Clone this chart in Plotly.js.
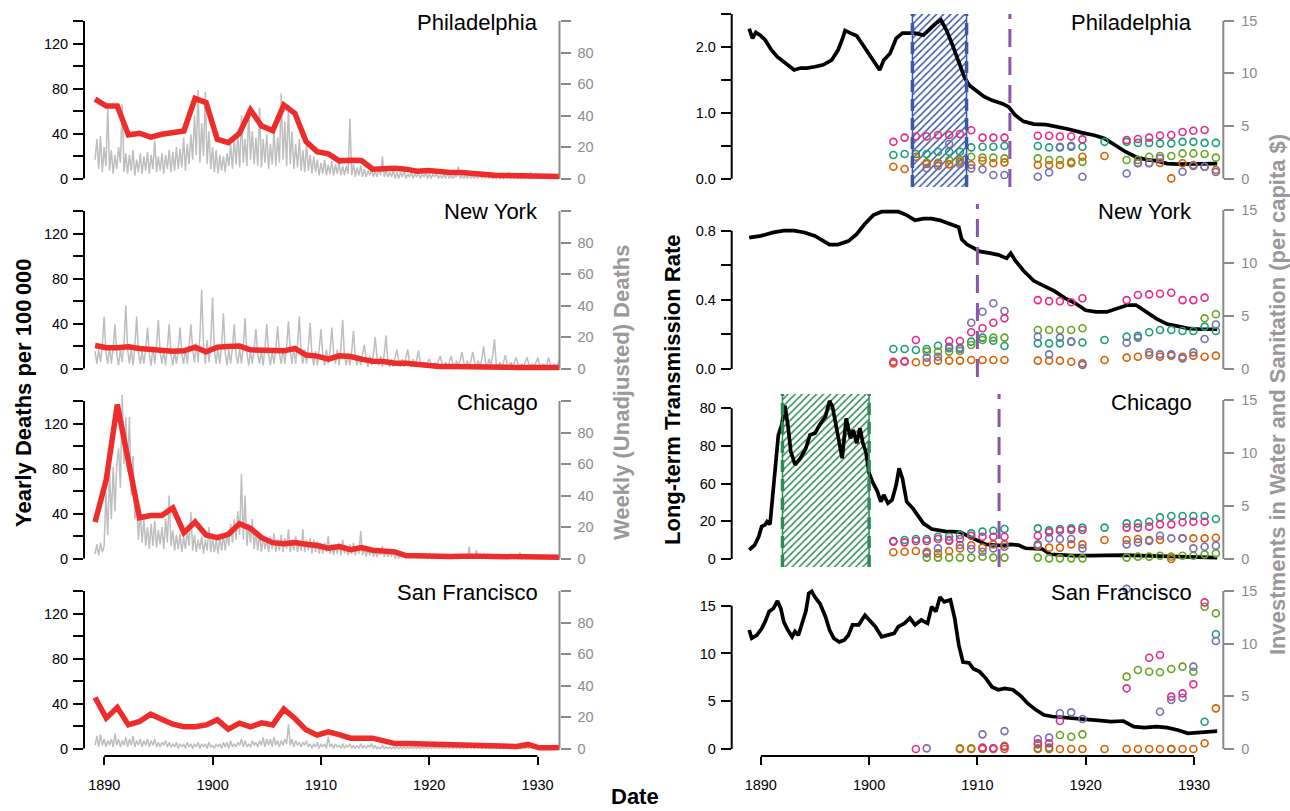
<!DOCTYPE html>
<html>
<head>
<meta charset="utf-8">
<script src="https://cdn.plot.ly/plotly-3.0.1.min.js"></script>
<style>html,body{margin:0;padding:0;background:#fff}#chart{width:1290px;height:811px}</style>
</head>
<body>
<div id="chart"></div>
<script>
// ---------------- DATA ----------------
const cities = ['Philadelphia', 'New York', 'Chicago', 'San Francisco'];

// yearly typhoid deaths per 100 000 (left column, left axis)
const yearlyYears = [1889.15,1890.18,1891.2,1892.23,1893.25,1894.28,1895.3,1896.33,1897.35,1898.38,
  1899.4,1900.43,1901.45,1902.48,1903.5,1904.53,1905.55,1906.58,1907.6,1908.63,
  1909.65,1910.68,1911.7,1912.73,1913.75,1914.78,1915.8,1916.83,1917.85,1918.88,
  1919.9,1920.93,1921.95,1922.98,1924.0,1925.03,1926.05,1927.08,1928.1,1929.13,
  1930.15,1931.18,1932.2];
const phYearly = [70.6,64.4,64.4,38.7,40.2,36.7,39.3,40.8,42.3,71.2,67.4,34.9,31.9,40.2,60.9,46.7,42.6,65.3,57.9,32.8,23.9,21.9,15.7,16.3,16,8.3,8.9,9.2,8.3,6.5,7.1,5.6,5.3,5.3,4.4,3,3,2.7,2.4,1.8,1.5,1.8,1.8];
const nyYearly = [20.4,18.4,18.4,19.3,17.8,16.6,16,15.4,15.7,19,14.8,19,19.6,19.9,16.6,16.6,16.3,15.7,17.8,11.9,11,8.3,11.3,10.7,8.3,6.5,6.2,4.7,4.7,3.9,2.1,1.8,1.8,1.8,2.1,2.4,2.4,1.2,0.9,0.9,0.9,0.9,0.9];
const chYearly = [32.4,70,136.8,86,36.2,38.2,38.2,45,23,32.4,20.9,18.5,21.5,30.9,26.8,18.5,14.1,13.2,14.1,12.6,11.5,9.1,10.6,7.9,9.7,7.4,6.2,5.9,2.6,2.1,1.8,1.8,1.8,2.1,2.6,2.1,1.8,1.5,1.5,1.2,1.2,0.9,1.2];
const sfYearly = [45.3,27,36.4,21,24,30.5,26,21.6,19.3,19.3,21,25.5,17.2,22.5,19.3,22.8,21,35,26.7,16.6,11.9,14.8,12.4,9.2,9.2,9.2,6.8,4.4,4.4,4.1,3.6,3.6,3.8,3.3,3.6,2.4,1.8,2.4,1.8,3.6,0.6,0.6,0.9];

// weekly (unadjusted) deaths, read roughly six values per year (left column, right axis)
const weeklyFirst = 1889.15, weeklyLast = 1932.2;
const phWeekly = [
  12,25,6,27,4,20, 8,45,5,18,3,15, 6,20,10,47,4,16, 3,15,5,18,2,12, 4,16,3,14,5,17,
  3,15,6,24,4,14, 5,16,3,15,6,18, 4,17,5,20,6,19, 7,26,5,22,9,28, 12,40,15,56,10,35,
  14,55,9,30,6,20, 4,18,3,15,5,14, 4,16,8,22,6,25, 9,28,7,40,10,25, 8,43,12,30,9,26,
  8,45,7,25,10,28, 6,22,9,30,8,26, 10,54,12,36,8,47, 9,30,6,22,7,25, 5,18,4,22,5,15,
  3,14,4,12,2,10, 3,12,2,9,3,11, 2,9,3,10,2,8, 2,8,3,38,2,9, 1,7,2,8,1,6,
  1,5,2,6,1,5, 1,6,2,14,1,5, 1,4,1,5,0,4, 0,4,1,5,0,3, 1,4,0,3,1,4,
  0,3,1,4,0,3, 0,3,1,3,0,2, 0,3,0,4,0,2, 0,2,1,7.5,0,2, 0,2,0,3,0,2,
  0,2,0,3,0,2, 0,4,0,2,0,1, 0,2,0,1,0,2, 0,4,0,1,0,1, 0,1,0,2,0,1,
  0,4,0,1,0,1, 0,1,0,1,0,2, 0,1,0,1,0,1, 0];
const nyWeekly = [
  11,3,12,4,15,33, 10,3,14,3,13,28, 9,2,12,4,16,40, 12,3,13,2,14,33, 10,3,11,3,12,26,
  9,2,14,3,15,31, 10,3,12,2,13,28, 9,2,11,3,12,26, 9,3,13,3,14,28, 12,4,16,4,20,50,
  14,3,18,4,16,45, 12,3,14,3,14,35, 10,2,12,3,13,28, 9,3,13,3,14,32, 10,2,11,3,12,25,
  9,3,12,2,13,28, 9,2,11,3,12,27, 10,3,13,3,14,30, 11,3,14,3,15,33, 10,3,12,3,13,29,
  9,2,11,2,12,25, 9,2,12,3,11,26, 10,3,12,2,13,31, 8,2,10,2,11,24, 6,2,8,2,9,15,
  6,1,8,2,9,20, 7,2,8,1,9,21, 5,1,6,1,7,12, 5,1,6,1,7,12, 4,1,6,1,6,11.5,
  3,1,4,1,4,6, 3,1,4,1,5,8, 3,1,4,1,4,8, 3,1,5,1,5,10.5, 4,1,5,1,5,10.5,
  4,1,5,1,6,14, 4,1,6,2,8,18.5, 3,1,4,1,4,8.5, 3,1,4,1,4,7, 3,1,3,1,4,7,
  3,1,3,1,4,7, 2,1,3,1,3,7, 2,1,3,1,3,6, 2];
const chWeekly = [
  3,9,2,10,4,8, 42,15,55,25,58,30, 60,70,45,104,60,90, 55,90,40,65,25,35, 12,30,10,25,8,20,
  6,22,8,24,7,18, 9,20,6,25,10,40, 8,18,5,15,6,16, 4,14,6,18,8,29.5, 5,15,4,12,6,14,
  3,12,5,20,4,13, 4,12,3,14,5,15, 5,16,8,22,10,25, 12,30,15,53.7,12,40, 8,22,10,25,6,18,
  5,16,4,14,6,12, 4,14,6,16,4,12, 5,15,4,13,6,18.5, 4,12,5,14,4,11, 5,18.5,4,12,5,13,
  3,12,4,11,3,10, 3,10,4,14,3,9, 2,9,3,10,2,12, 3,8,2,9,3,10, 2,8,3,17.5,2,7,
  1,6,2,7,1,5, 1,5,2,8,1,4, 1,4,1,5,0,3, 0,2,1,3,0,2, 0,2,0,2,0,2,
  0,2,0,3,0,1, 0,1,0,2,0,1, 0,1,0,2,0,1, 0,2,0,1,0,2, 0,2,0,7.4,0,2,
  0,5.3,0,2,0,1, 0,2,0,1,0,2, 0,1,0,2,0,1, 0,2,0,1,0,1, 0,3.8,0,1,0,1,
  0,1,0,2,0,1, 0,1,0,1,0,1, 0,1,0,1,0,1, 0];
const sfWeekly = [
  2,8,1,9,2,6, 1,5,2,6,1,9.5, 2,6,1,5,2,7, 1,6,2,8,1,5, 2,6,1,5,2,6,
  1,5,2,6,1,4, 1,4,2,5,1,4, 1,3,1,4,0,3, 1,3,0,4,1,3, 0,3,1,4,0,3,
  1,3,0,4,1,2, 0,3,1,3,0,4, 1,4,0,5,1,3, 1,4,2,6,1,5, 1,3,1,5,2,4,
  1,5,2,7,1,6, 2,6,1,7.4,2,5, 1,5,2,6,3,15.4, 2,6,1,5,2,4, 1,4,2,5,1,3,
  0,3,1,4,0,3, 1,3,0,7.4,1,3, 0,3,1,2,0,3, 0,2,1,3,0,2, 0,2,0,3,0,2,
  0,2,1,3,0,2, 0,1,0,2,0,1, 0,1,0,1,0,1, 0,1,0,1,0,1, 0,1,0,1,0,1,
  0,1,0,1,0,1, 0,1,0,1,0,1, 0,1,0,1,0,1, 0,1,0,1,0,1, 0,1,0,1,0,1,
  0,1,0,1,0,1, 0,1,0,1,0,1, 0,1,0,1,0,1, 0,1,0,1,0,1, 0,1,0,1,0,1,
  0,1,0,1,0,1, 0,1,0,1,0,1, 0,1,0,1,0,1, 0];

// long-term transmission rate (right column, left axis)
const phTransYears = [1888.93,1889.23,1889.54,1890.0,1890.39,1890.96,1891.54,1892.12,1892.5,1893.08,1893.66,1894.24,1895.0,1895.77,1896.54,1897.12,1897.51,1897.78,1898.28,1898.85,1899.43,1900.0,1900.58,1900.97,1901.35,1901.93,1902.5,1903.08,1903.66,1904.24,1905.01,1905.59,1906.17,1906.63,1907.13,1907.7,1908.28,1908.78,1909.24,1909.82,1910.59,1911.35,1912.31,1912.89,1913.47,1914.24,1915.2,1916.35,1917.31,1918.46,1919.62,1920.78,1921.74,1922.71,1923.67,1924.64,1925.6,1926.56,1927.52,1928.48,1929.44,1930.4,1932.14];
const phTrans = [2.28,2.13,2.22,2.17,2.11,1.96,1.85,1.78,1.73,1.65,1.68,1.68,1.70,1.73,1.80,1.95,2.11,2.25,2.21,2.17,2.03,1.88,1.73,1.65,1.80,1.90,2.13,2.21,2.21,2.21,2.18,2.28,2.36,2.41,2.26,2.03,1.78,1.55,1.42,1.34,1.25,1.19,1.14,1.09,0.97,0.87,0.83,0.82,0.79,0.75,0.70,0.66,0.61,0.51,0.41,0.33,0.29,0.27,0.23,0.22,0.22,0.22,0.23];
const nyTransYears = [1888.93,1890.0,1891.16,1892.12,1893.08,1894.04,1895.0,1895.77,1896.35,1897.12,1898.08,1898.85,1899.62,1900.39,1901.16,1901.93,1902.7,1903.47,1904.24,1905.01,1905.78,1906.55,1907.51,1908.28,1908.55,1909.05,1909.63,1910.2,1911.16,1911.93,1912.7,1913.08,1913.47,1914.24,1915.2,1916.16,1917.12,1918.08,1919.04,1920.0,1920.97,1921.94,1922.9,1923.86,1924.64,1925.41,1926.56,1927.52,1928.48,1929.44,1930.6,1932.14];
const nyTrans = [0.76,0.77,0.79,0.80,0.80,0.79,0.77,0.74,0.72,0.72,0.74,0.78,0.84,0.89,0.91,0.91,0.91,0.89,0.86,0.87,0.87,0.86,0.84,0.82,0.75,0.72,0.70,0.68,0.67,0.66,0.64,0.67,0.63,0.57,0.51,0.48,0.45,0.41,0.38,0.34,0.33,0.33,0.35,0.37,0.37,0.34,0.29,0.26,0.25,0.235,0.23,0.23];
const chTransYears = [1888.93,1889.43,1889.81,1890.08,1890.39,1890.58,1890.85,1891.08,1891.35,1891.62,1891.93,1892.23,1892.5,1892.77,1893.16,1893.66,1894.16,1894.54,1895.0,1895.47,1895.97,1896.35,1896.62,1897.01,1897.51,1897.89,1898.28,1898.54,1898.85,1899.16,1899.43,1899.7,1900.0,1900.31,1900.77,1901.08,1901.35,1901.74,1902.12,1902.5,1902.77,1903.08,1903.47,1904.04,1904.55,1905.01,1905.78,1906.55,1907.13,1907.7,1908.47,1909.24,1910.01,1910.78,1911.55,1912.31,1913.08,1913.78,1914.43,1915.2,1915.97,1916.73,1917.7,1918.85,1920.39,1921.94,1923.48,1925.02,1926.94,1928.86,1930.4,1932.14];
const chTrans = [4.8,7.4,11.9,17.2,18.1,19.8,18.4,34,51.7,65.8,71.2,81.4,71.2,57,50,53.5,58.8,65.8,66.7,71.5,75.6,83.9,80.9,67.6,53.5,74.7,64,68.5,61.4,69.4,61.4,57,45.5,41,35.8,30.4,34,29.6,31.3,39.3,48.1,42.8,30.4,26.9,22.5,18.9,15.9,14.9,14.5,14.5,14.2,11.9,10.1,7.8,7.4,7.1,7.8,7.4,5.7,5.7,5.3,2.5,2.1,1.8,1.8,2.1,2.1,1.8,1.4,1.2,1.1,0.7];
const sfTransYears = [1888.93,1889.16,1889.62,1890.08,1890.39,1890.77,1891.16,1891.54,1891.85,1892.12,1892.5,1892.89,1893.16,1893.47,1893.85,1894.16,1894.43,1894.7,1895.0,1895.47,1895.97,1896.35,1896.74,1897.24,1897.7,1898.08,1898.47,1899.04,1899.62,1900.0,1900.58,1901.16,1901.74,1902.31,1902.7,1903.27,1903.77,1904.24,1904.82,1905.4,1905.78,1906.17,1906.55,1906.94,1907.51,1907.9,1908.28,1908.67,1909.24,1909.63,1910.2,1910.78,1911.35,1911.93,1912.51,1913.28,1914.05,1914.62,1915.39,1916.16,1916.93,1917.7,1918.85,1920.0,1921.17,1922.32,1923.48,1924.44,1925.41,1926.56,1927.52,1928.48,1929.44,1930.4,1932.14];
const sfTrans = [12.45,11.6,11.9,12.6,13.3,14.4,14.7,15.5,14.7,13.3,12.45,11.75,12.3,11.9,13.3,14.4,16.3,16.5,15.9,15.2,13.85,12.45,11.6,11.2,11.4,11.9,13.0,13.0,14.0,13.5,12.8,11.75,11.9,12.1,12.8,13.15,13.7,13.0,13.5,13.15,14.9,14.4,15.9,15.4,15.6,13.7,10.9,9.1,9.0,8.4,8.1,7.4,6.5,6.2,6.35,6.2,5.5,4.8,4.1,3.56,3.4,3.3,3.2,3.1,3.0,2.86,2.93,2.34,2.23,2.34,2.23,1.99,1.64,1.74,1.88];

// investments in water and sanitation, per capita $ (right column, right axis)
const investYears = [1902.24,1903.28,1904.32,1905.32,1906.36,1907.39,1908.39,1909.43,1910.47,1911.47,1912.5,1915.58,1916.62,1917.62,1918.66,1919.7,1921.74,1923.78,1924.82,1925.86,1926.86,1927.9,1928.94,1929.94,1930.98,1932.02];
const phPink   = [3.5,3.9,4.0,4.0,4.15,4.15,4.24,4.6,3.9,3.9,3.9,4.08,4.08,4.0,4.0,3.73,null,3.67,3.77,3.9,4.1,4.15,4.43,4.55,4.62,null];
const phTeal   = [2.25,2.34,2.34,2.34,2.56,2.56,2.56,2.97,3.04,3.04,3.1,3.1,2.97,2.97,3.04,3.04,3.5,3.5,3.4,3.4,3.35,3.35,3.5,3.5,3.4,3.4];
const phOrange = [1.14,0.92,2.09,1.4,1.45,1.36,1.6,1.3,1.7,1.46,1.55,1.3,1.3,1.3,1.46,2.09,2.15,null,1.5,1.5,1.5,0.03,1.46,1.3,1.14,0.82];
const phPurple = [null,null,null,1.0,1.2,3.3,1.4,0.98,0.89,0.35,0.35,0.19,0.6,3.04,3.13,0.19,null,0.5,1.46,1.46,1.93,null,0.66,1.2,1.14,0.63];
const phGreen  = [null,null,null,1.5,1.52,1.77,1.77,2.09,2.0,2.0,1.93,1.93,1.77,1.77,1.6,1.6,null,1.77,1.77,2.09,2.15,2.15,2.4,2.4,2.34,2.0];
const nyPink   = [0.69,0.69,2.74,null,null,2.64,2.64,3.46,3.84,4.37,4.78,6.5,6.4,6.4,6.3,6.67,null,6.5,6.98,7.04,7.1,7.2,6.5,6.5,6.73,null];
const nyTeal   = [1.89,1.89,1.79,1.89,2.2,2.1,2.0,2.58,2.96,2.67,2.17,2.42,2.42,2.42,2.58,2.5,2.74,3.05,3.14,3.46,3.68,3.68,3.58,3.58,4.0,3.58];
const nyOrange = [0.53,0.75,0.63,0.63,0.79,0.79,0.79,0.85,0.85,0.85,0.85,0.79,0.79,0.79,0.69,0.53,0.85,1.07,1.16,1.32,1.16,1.26,1.16,1.26,1.16,1.26];
const nyPurple = [null,null,null,1.07,1.16,1.95,1.89,4.37,5.4,6.2,5.47,3.05,1.38,2.96,2.58,0.38,null,2.48,2.96,1.57,1.38,1.38,1.0,1.57,2.83,4.2];
const nyGreen  = [null,null,null,1.64,1.64,1.64,1.7,2.26,2.74,2.96,2.96,3.68,3.68,3.68,3.68,3.84,null,null,null,null,null,null,null,null,4.78,5.16];
const chPink   = [1.64,1.57,1.7,1.7,1.89,1.8,1.89,2.2,2.1,2.1,2.1,2.2,2.52,2.67,2.74,2.74,null,2.96,2.96,3.05,3.27,3.27,3.46,3.52,3.52,null];
const chTeal   = [1.7,1.79,1.89,1.89,2.1,2.1,2.26,2.42,2.58,2.67,2.83,2.89,2.7,2.83,2.89,2.96,2.96,3.36,3.36,3.52,3.93,4.06,4.06,4.06,4.06,3.77];
const chOrange = [0.63,0.69,0.75,0.69,0.53,0.75,1.0,1.3,1.07,1.38,1.38,1.26,1.07,1.07,1.38,1.38,1.79,1.79,1.89,1.79,1.79,0.0,1.95,1.95,1.95,2.0];
const chPurple = [null,null,null,0.53,1.0,1.7,1.32,0.94,0.69,1.0,1.16,1.38,1.95,1.89,1.89,1.0,null,1.38,1.57,1.7,2.2,1.95,1.95,1.0,1.16,1.26];
const chGreen  = [null,null,null,0.13,0.13,0.13,0.13,0.13,0.22,0.13,0.13,0.13,0.06,0.06,0.06,0.06,null,0.13,0.22,0.22,0.31,0.22,0.31,0.31,0.44,0.53];
const sfPink   = [null,null,0.0,null,null,null,null,null,0.13,0.06,0.22,0.54,0.54,2.66,null,null,null,5.76,null,8.67,8.92,4.97,5.28,6.14,13.92,null];
const sfTeal   = [null,null,null,null,null,null,null,null,null,null,null,0.06,0.13,null,null,null,null,null,null,null,null,0.0,null,null,2.59,10.9];
const sfOrange = [null,null,null,null,null,null,0.0,0.0,0.0,0.0,0.0,0.0,0.0,0.0,0.0,0.0,0.0,0.0,0.0,0.0,0.0,0.0,0.0,0.0,0.54,3.86];
const sfPurple = [null,null,null,0.06,null,null,null,null,1.39,null,1.7,0.95,1.08,3.39,3.48,2.85,null,15.2,null,null,3.54,4.65,4.87,7.82,null,10.25];
const sfGreen  = [null,null,null,null,null,null,0.06,0.06,0.06,0.06,0.3,0.44,null,1.33,1.17,1.39,null,6.87,7.5,7.34,7.28,7.6,7.82,7.34,13.5,12.88];

// hatched periods and dashed intervention years
const phHatch = [1904, 1909];
const chHatch = [1892, 1900];
const policyYears = [1913, 1910, 1912, null];

// tick labels
const xTickVals = [1890, 1900, 1910, 1920, 1930];
const yearlyTickVals = [0,20,40,60,80,100,120,140];
const yearlyTickText = ['0','','40','','80','','120',''];
const weeklyTickVals = [0,20,40,60,80,100];
const weeklyTickText = ['0','20','40','60','80',''];
const transTickVals = [[0,0.5,1,1.5,2,2.5],[0,0.2,0.4,0.6,0.8],[0,20,40,60,80],[0,5,10,15]];
const transTickText = [['0.0','','1.0','','2.0',''],['0.0','','0.4','','0.8'],['0','20','60','80','80'],['0','5','10','15']];
const investTickVals = [0,5,10,15];
const investTickText = ['0','5','10','15'];

// ---------------- STYLE / GEOMETRY ----------------
const W = 1290, H = 811;
const FONT = 'Liberation Sans, Arial, Helvetica, sans-serif';
const GRAY = '#8a8a8a', GRAYT = '#999999', RED = '#EE2C2C', WEEKGRAY = '#BEBEBE';
const COLORS = {pink:'#E7298A', teal:'#1B9E77', orange:'#D95F02', purple:'#7570B3', green:'#66A61E'};
const px = p => p / W, py = p => 1 - p / H;
function rangeFrom(v0, p0, v1, p1, lo, hi) {           // lo/hi are pixel edges (hi = top)
  const s = (p1 - p0) / (v1 - v0);
  return [v0 + (lo - p0) / s, v0 + (hi - p0) / s];
}
const rowTop = i => 14 + 190 * i, rowBot = i => 187 + 190 * i;
const LX = [84, 559.5], RX = [731.7, 1223.3];
const leftXR = rangeFrom(1890, 104.3, 1930, 537.5, LX[0], LX[1]);
const rightXR = rangeFrom(1890, 760.8, 1930, 1194, RX[0], RX[1]);
const axisY = 756;

// pixel anchors for right column left axes: [v0,p0,v1,p1]
const transAnch = [[0,178.7,2,47],[0,369,0.8,230.7],[0,559,80,408.3],[0,749,15,605.7]];
const transLineTop = [2.5, 0.8, 80, 15];
const investAnch = [[178.7,20.7],[369,210],[559,400],[749,591]];

const yearlyData = [phYearly, nyYearly, chYearly, sfYearly];
const weeklyData = [phWeekly, nyWeekly, chWeekly, sfWeekly];
const transX = [phTransYears, nyTransYears, chTransYears, sfTransYears];
const transY = [phTrans, nyTrans, chTrans, sfTrans];
const invest = [
  {teal:phTeal, green:phGreen, orange:phOrange, purple:phPurple, pink:phPink},
  {teal:nyTeal, green:nyGreen, orange:nyOrange, purple:nyPurple, pink:nyPink},
  {teal:chTeal, green:chGreen, orange:chOrange, purple:chPurple, pink:chPink},
  {teal:sfTeal, green:sfGreen, orange:sfOrange, purple:sfPurple, pink:sfPink}
];
const hatches = [{span:phHatch, color:'#3B57A7'}, null, {span:chHatch, color:'#2E8B57'}, null];

const yRef = n => n === 1 ? 'y' : 'y' + n;
const yKey = n => n === 1 ? 'yaxis' : 'yaxis' + n;

const baseY = {showgrid:false, zeroline:false, showline:false, ticks:'outside', ticklen:10, tickwidth:2,
  tickmode:'array', fixedrange:true, tickfont:{family:FONT, size:14.5}};

const layout = {
  width: W, height: H, margin: {l:0, r:0, t:0, b:0, pad:0},
  paper_bgcolor: '#ffffff', plot_bgcolor: 'rgba(0,0,0,0)', showlegend: false,
  font: {family: FONT, size: 14.5, color: '#000'},
  xaxis: {domain:[px(LX[0]), px(LX[1])], range:leftXR, anchor:'free', position:py(axisY),
    showgrid:false, zeroline:false, showline:false, ticks:'outside', ticklen:8, tickwidth:2, tickcolor:'#000',
    tickmode:'array', tickvals:xTickVals, ticktext:xTickVals.map(String), tickfont:{family:FONT, size:14.5}, ticklabelstandoff:8, fixedrange:true},
  xaxis2: {domain:[px(RX[0]), px(RX[1])], range:rightXR, anchor:'free', position:py(axisY),
    showgrid:false, zeroline:false, showline:false, ticks:'outside', ticklen:8, tickwidth:2, tickcolor:'#000',
    tickmode:'array', tickvals:xTickVals, ticktext:xTickVals.map(String), tickfont:{family:FONT, size:14.5}, ticklabelstandoff:8, fixedrange:true},
  shapes: [], annotations: []
};
const traces = [];

for (let i = 0; i < 4; i++) {
  const top = rowTop(i), bot = rowBot(i);
  const z = 178.5 + 190 * i, t = 21 + 190 * i;
  // ----- left column -----
  const nW = 2 * i + 1, nY = 2 * i + 2;
  layout[yKey(nW)] = Object.assign({}, baseY, {
    domain:[py(bot), py(top)], anchor:'x', side:'right',
    range: rangeFrom(0, z, 100, t, bot, top),
    tickvals: weeklyTickVals, ticktext: weeklyTickText, tickcolor: GRAY,
    tickfont:{family:FONT, size:14.5, color:GRAY}, ticklabelstandoff: 4});
  layout[yKey(nY)] = Object.assign({}, baseY, {
    overlaying: yRef(nW), anchor:'x', side:'left',
    range: rangeFrom(0, z, 140, t, bot, top),
    tickvals: yearlyTickVals, ticktext: yearlyTickText, tickcolor:'#000',
    tickfont:{family:FONT, size:14.5, color:'#000'}, ticklabelstandoff: 2});
  const wk = weeklyData[i];
  const wx = wk.map((_, k) => weeklyFirst + k * (weeklyLast - weeklyFirst) / (wk.length - 1));
  traces.push({type:'scatter', mode:'lines', x: wx, y: wk, xaxis:'x', yaxis: yRef(nW),
    line:{color: WEEKGRAY, width: 1.5}, hoverinfo:'skip'});
  traces.push({type:'scatter', mode:'lines', x: yearlyYears, y: yearlyData[i], xaxis:'x', yaxis: yRef(nY),
    line:{color: RED, width: 5.5}, hoverinfo:'skip'});
  layout.shapes.push({type:'line', xref:'paper', yref:yRef(nY), x0:px(LX[0]), x1:px(LX[0]), y0:0, y1:140,
    line:{color:'#000', width:2}, layer:'above'});
  layout.shapes.push({type:'line', xref:'paper', yref:yRef(nW), x0:px(LX[1]), x1:px(LX[1]), y0:0, y1:100,
    line:{color:GRAY, width:2}, layer:'above'});

  // ----- right column -----
  const nT = 9 + 2 * i, nI = 10 + 2 * i;
  const a = transAnch[i];
  const tr = rangeFrom(a[0], a[1], a[2], a[3], bot, top);
  layout[yKey(nT)] = Object.assign({}, baseY, {
    domain:[py(bot), py(top)], anchor:'x2', side:'left', range: tr,
    tickvals: transTickVals[i], ticktext: transTickText[i], tickcolor:'#000',
    tickfont:{family:FONT, size:14.5, color:'#000'}, ticklabelstandoff: 2});
  layout[yKey(nI)] = Object.assign({}, baseY, {
    overlaying: yRef(nT), anchor:'x2', side:'right',
    range: rangeFrom(0, investAnch[i][0], 15, investAnch[i][1], bot, top),
    tickvals: investTickVals, ticktext: investTickText, tickcolor: GRAY,
    tickfont:{family:FONT, size:14.5, color:GRAY}, ticklabelstandoff: 4});
  const h = hatches[i];
  if (h) {
    traces.push({type:'bar', x:[(h.span[0] + h.span[1]) / 2], width:[h.span[1] - h.span[0]],
      base:[tr[0]], y:[tr[1] - tr[0]], xaxis:'x2', yaxis:yRef(nT), hoverinfo:'skip',
      marker:{color:'rgba(255,255,255,0)', line:{width:0},
        pattern:{shape:'/', fgcolor:h.color, bgcolor:'rgba(255,255,255,0)', size:5, solidity:0.3, fillmode:'replace'}}});
    h.span.forEach(xv => {
      layout.shapes.push({type:'line', xref:'x2', yref:'paper', x0:xv, x1:xv, y0:py(bot), y1:py(top),
        line:{color:h.color, width:1.5}, layer:'above'});
      layout.shapes.push({type:'line', xref:'x2', yref:'paper', x0:xv, x1:xv, y0:py(bot), y1:py(top),
        line:{color:h.color, width:3.5, dash:'12px,7px'}, layer:'above'});
    });
  }
  traces.push({type:'scatter', mode:'lines', x: transX[i], y: transY[i], xaxis:'x2', yaxis:yRef(nT),
    line:{color:'#000', width:3.7}, hoverinfo:'skip'});
  ['teal','green','orange','purple','pink'].forEach(c => {
    traces.push({type:'scatter', mode:'markers', x: investYears, y: invest[i][c], xaxis:'x2', yaxis:yRef(nI),
      marker:{symbol:'circle-open', size:7, color:COLORS[c], line:{width:1.6}}, cliponaxis:false, hoverinfo:'skip'});
  });
  if (policyYears[i] !== null) {
    layout.shapes.push({type:'line', xref:'x2', yref:'paper', x0:policyYears[i], x1:policyYears[i],
      y0:py(bot), y1:py(top), line:{color:'#8A56A5', width:3, dash:'18px,10px'}, layer:'above'});
  }
  layout.shapes.push({type:'line', xref:'paper', yref:yRef(nT), x0:px(RX[0]), x1:px(RX[0]), y0:0, y1:transLineTop[i],
    line:{color:'#000', width:2}, layer:'above'});
  layout.shapes.push({type:'line', xref:'paper', yref:yRef(nI), x0:px(RX[1]), x1:px(RX[1]), y0:0, y1:15,
    line:{color:GRAY, width:2}, layer:'above'});

  // city labels
  [540, 1194].forEach(xp => layout.annotations.push({xref:'paper', yref:'paper', x:px(xp), y:py(22 + 190 * i),
    xanchor:'right', yanchor:'middle', showarrow:false, text:cities[i], font:{family:FONT, size:22, color:'#000'}}));
}

// bottom axis lines (from first to last tick)
['x','x2'].forEach(xr => layout.shapes.push({type:'line', xref:xr, yref:'paper', x0:1890, x1:1930,
  y0:py(axisY), y1:py(axisY), line:{color:'#000', width:2}, layer:'above'}));

// axis titles
const titles = [
  {text:'Yearly Deaths per 100\u2009000', x:23, y:393, color:'#000', angle:-90},
  {text:'Weekly (Unadjusted) Deaths', x:621, y:393, color:GRAYT, angle:-90},
  {text:'Long-term Transmission Rate', x:672, y:390, color:'#000', angle:-90},
  {text:'Investments in Water and Sanitation (per capita $)', x:1277, y:395, color:GRAYT, angle:-90},
  {text:'Date', x:635, y:796, color:'#000', angle:0}
];
titles.forEach(tt => layout.annotations.push({xref:'paper', yref:'paper', x:px(tt.x), y:py(tt.y),
  xanchor:'center', yanchor:'middle', showarrow:false, textangle:tt.angle, text:'<b>' + tt.text + '</b>',
  font:{family:FONT, size:22, color:tt.color}}));

Plotly.newPlot('chart', traces, layout, {displayModeBar:false, staticPlot:true});
</script>
</body>
</html>
